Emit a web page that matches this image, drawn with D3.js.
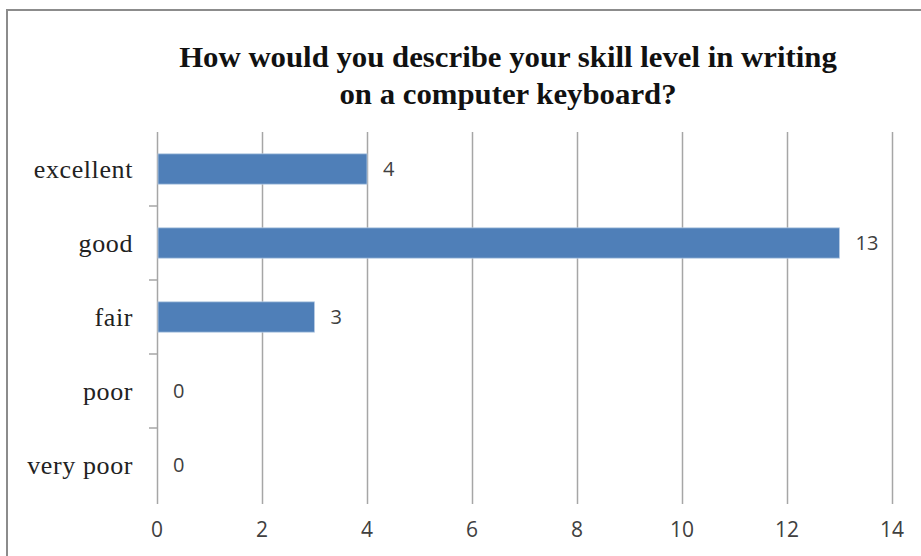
<!DOCTYPE html>
<html>
<head>
<meta charset="utf-8">
<script src="https://cdn.jsdelivr.net/npm/d3@7"></script>
<style>
  body { margin: 0; background: #fff; }
  svg { display: block; }
</style>
</head>
<body>
<div id="chart"></div>
<script>
const categories = ["excellent", "good", "fair", "poor", "very poor"];
const counts = [4, 13, 3, 0, 0];
const xTicks = [0, 2, 4, 6, 8, 10, 12, 14];
const titleLines = ["How would you describe your skill level in writing", "on a computer keyboard?"];

const W = 921, H = 556;
const svg = d3.select("#chart").append("svg").attr("width", W).attr("height", H);

// outer frame (only top and left edges are visible in the crop)
svg.append("path")
  .attr("d", `M7,${H} V10 H${W}`)
  .attr("fill", "none")
  .attr("stroke", "#8c8c8c")
  .attr("stroke-width", 2);

const x = d3.scaleLinear().domain([0, 14]).range([157, 892]);
const y = d3.scaleBand().domain(categories).range([132, 502]).paddingInner(0.59).paddingOuter(0.295);

// gridlines
svg.append("g")
  .selectAll("line")
  .data(xTicks)
  .enter()
  .append("line")
  .attr("x1", d => x(d) + 0.5)
  .attr("x2", d => x(d) + 0.5)
  .attr("y1", 132)
  .attr("y2", 504)
  .attr("stroke", "#a6a6a6")
  .attr("stroke-width", 1.5);

// category tick marks left of axis
const bounds = d3.range(1, categories.length).map(i => 132 + i * (370 / categories.length));
svg.append("g")
  .selectAll("line")
  .data(bounds)
  .enter()
  .append("line")
  .attr("x1", 149)
  .attr("x2", 157)
  .attr("y1", d => d)
  .attr("y2", d => d)
  .attr("stroke", "#a6a6a6")
  .attr("stroke-width", 1.5);

// bars
svg.append("g")
  .selectAll("rect")
  .data(categories)
  .enter()
  .append("rect")
  .attr("x", x(0) + 1)
  .attr("y", d => y(d))
  .attr("width", (d, i) => Math.max(0, x(counts[i]) - x(0) - 1))
  .attr("height", y.bandwidth())
  .attr("fill", "#4f7fb8")
  .attr("stroke", "#b8cce4")
  .attr("stroke-width", 0.8);

// value labels
svg.append("g")
  .selectAll("text")
  .data(categories)
  .enter()
  .append("text")
  .attr("x", (d, i) => x(counts[i]) + 16)
  .attr("y", d => y(d) + y.bandwidth() / 2)
  .attr("dy", "0.36em")
  .attr("font-family", "'Open Sans', 'DejaVu Sans', sans-serif")
  .attr("font-size", 20)
  .attr("fill", "#404040")
  .text((d, i) => counts[i]);

// category labels
svg.append("g")
  .selectAll("text")
  .data(categories)
  .enter()
  .append("text")
  .attr("x", 133)
  .attr("y", d => y(d) + y.bandwidth() / 2)
  .attr("dy", "0.33em")
  .attr("text-anchor", "end")
  .attr("font-family", "'Liberation Serif', serif")
  .attr("font-size", 26)
  .attr("letter-spacing", 0.6)
  .attr("fill", "#222")
  .text(d => d);

// x tick labels
svg.append("g")
  .selectAll("text")
  .data(xTicks)
  .enter()
  .append("text")
  .attr("x", d => x(d))
  .attr("y", 529)
  .attr("dy", "0.36em")
  .attr("text-anchor", "middle")
  .attr("font-family", "'Open Sans', 'DejaVu Sans', sans-serif")
  .attr("font-size", 21)
  .attr("fill", "#404040")
  .text(d => d);

// title
svg.append("g")
  .attr("transform", "translate(508,0) scale(1.08,1)")
  .selectAll("text")
  .data(titleLines)
  .enter()
  .append("text")
  .attr("x", 0)
  .attr("y", (d, i) => 67 + i * 37)
  .attr("text-anchor", "middle")
  .attr("font-family", "'Liberation Serif', serif")
  .attr("font-weight", "bold")
  .attr("font-size", 28.5)
  .attr("fill", "#111")
  .text(d => d);
</script>
</body>
</html>
